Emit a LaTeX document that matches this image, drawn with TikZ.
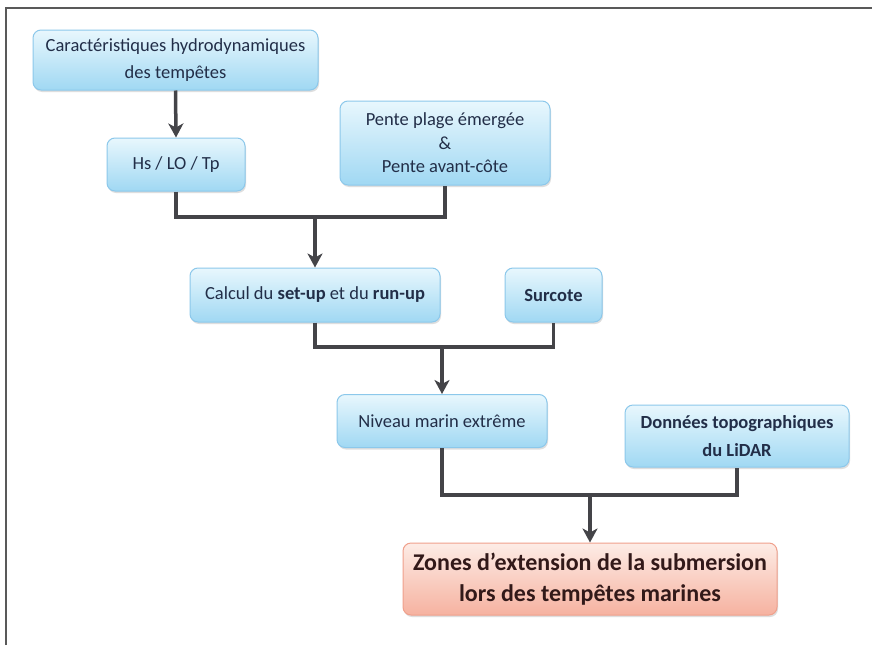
\documentclass[tikz,border=0pt]{standalone}
\usepackage{fontspec}
\setmainfont{Carlito}
\usetikzlibrary{arrows.meta,shadows}
\definecolor{txtblue}{RGB}{34,46,72}
\definecolor{txtred}{RGB}{50,25,25}
\definecolor{bluetop}{RGB}{232,247,253}
\definecolor{bluebot}{RGB}{160,216,243}
\definecolor{blueedge}{RGB}{140,200,235}
\definecolor{redtop}{RGB}{253,236,230}
\definecolor{redbot}{RGB}{246,178,160}
\definecolor{rededge}{RGB}{240,160,140}
\definecolor{linecol}{RGB}{68,68,72}
\tikzset{
  x=1pt, y=-1pt,
  bluebox/.style={draw=blueedge, line width=1pt, rounded corners=8pt,
    top color=bluetop, bottom color=bluebot, text=txtblue, align=center,
    font=\fontsize{18.5}{27}\selectfont, inner sep=0pt,
    drop shadow={shadow xshift=1pt, shadow yshift=-2pt, fill=black!25, opacity=.5}},
  redbox/.style={draw=rededge, line width=1pt, rounded corners=8pt,
    top color=redtop, bottom color=redbot, text=txtred, align=center,
    font=\fontsize{24}{31}\selectfont\bfseries, inner sep=0pt,
    drop shadow={shadow xshift=1pt, shadow yshift=-2pt, fill=black!25, opacity=.5}},
  conn/.style={draw=linecol, line width=3.5pt},
  arr/.style={conn, -{Stealth[length=14pt,width=15pt,inset=4pt]}},
}
\begin{document}
\begin{tikzpicture}
\useasboundingbox (0,0) rectangle (872,645);
\fill[white] (0,0) rectangle (872,645);
% frame (top and left lines)
\draw[gray!70!black, line width=1.5pt] (6,645) -- (6,8) -- (872,8);

\node[bluebox, minimum width=285pt, minimum height=60pt] (b1) at (175.5,60)
  {Caractéristiques hydrodynamiques\\des tempêtes};
\node[bluebox, minimum width=138pt, minimum height=53pt] (b2) at (176,164.5)
  {Hs / LO / Tp};
\node[bluebox, minimum width=210pt, minimum height=84pt, font=\fontsize{18.5}{23.5}\selectfont] (b3) at (445,143)
  {Pente plage émergée\\\&\\Pente avant-côte};
\node[bluebox, minimum width=250pt, minimum height=54pt] (b4) at (315,295)
  {Calcul du \textbf{set-up} et du \textbf{run-up}};
\node[bluebox, minimum width=97pt, minimum height=54pt] (b5) at (553.5,295)
  {\textbf{Surcote}};
\node[bluebox, minimum width=210pt, minimum height=53pt] (b6) at (442,421)
  {Niveau marin extrême};
\node[bluebox, minimum width=224pt, minimum height=62pt, font=\fontsize{18.5}{28}\selectfont\bfseries] (b7) at (737,436)
  {Données topographiques\\du LiDAR};
\node[redbox, minimum width=374pt, minimum height=72pt] (b8) at (590,579)
  {Zones d’extension de la submersion\\lors des tempêtes marines};

\coordinate (j1) at (315,217);
\coordinate (j2) at (442,347);
\coordinate (j3) at (590,495);

\draw[arr] (b1.south) -- (b2.north);
\draw[conn] (b2.south) |- (j1) -| (b3.south);
\draw[arr] (j1) -- (b4.north);
\draw[conn] (b4.south) |- (j2) -| (b5.south);
\draw[arr] (j2) -- (b6.north);
\draw[conn] (b6.south) |- (j3) -| (b7.south);
\draw[arr] (j3) -- (b8.north);
\end{tikzpicture}
\end{document}
